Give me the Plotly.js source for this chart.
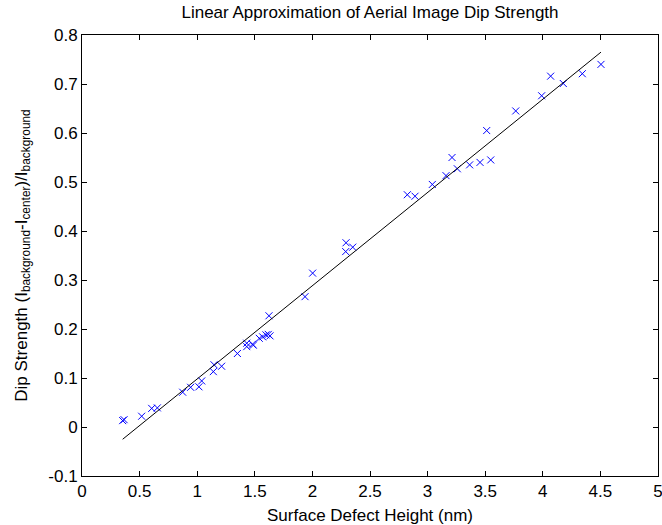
<!DOCTYPE html>
<html>
<head>
<meta charset="utf-8">
<script src="https://cdn.plot.ly/plotly-3.0.1.min.js"></script>
<style>html,body{margin:0;padding:0;background:#fff;}#chart{width:662px;height:525px;}</style>
</head>
<body>
<div id="chart"></div>
<script>
// Measured points: surface defect height (nm) vs dip strength
const heightNm = [0.353, 0.365, 0.518, 0.605, 0.654, 0.874, 0.943, 1.015, 1.039,
  1.140, 1.146, 1.212, 1.349, 1.430, 1.430, 1.480, 1.487, 1.539, 1.568, 1.597, 1.617, 1.632, 1.623,
  1.936, 2.002, 2.289, 2.292, 2.350, 2.824, 2.891, 3.041, 3.160, 3.212, 3.258, 3.365, 3.455, 3.548,
  3.513, 3.765, 3.990, 4.068, 4.178, 4.343, 4.505];
const dipStrength = [0.013, 0.015, 0.022, 0.038, 0.039, 0.071, 0.081, 0.082, 0.094,
  0.113, 0.127, 0.124, 0.150, 0.171, 0.164, 0.169, 0.167, 0.181, 0.184, 0.188, 0.189, 0.186, 0.227,
  0.266, 0.314, 0.358, 0.376, 0.367, 0.474, 0.471, 0.495, 0.513, 0.550, 0.527, 0.535, 0.540, 0.545,
  0.605, 0.645, 0.676, 0.716, 0.701, 0.721, 0.740];
// Linear approximation endpoints
const fitX = [0.353, 4.505];
const fitY = [-0.025, 0.765];
// Tick labels
const xTickVals = [0, 0.5, 1, 1.5, 2, 2.5, 3, 3.5, 4, 4.5, 5];
const xTickText = ['0', '0.5', '1', '1.5', '2', '2.5', '3', '3.5', '4', '4.5', '5'];
const yTickVals = [-0.1, 0, 0.1, 0.2, 0.3, 0.4, 0.5, 0.6, 0.7, 0.8];
const yTickText = ['-0.1', '0', '0.1', '0.2', '0.3', '0.4', '0.5', '0.6', '0.7', '0.8'];

const font = {family: 'Liberation Sans, Arial, sans-serif', size: 17, color: '#000'};

const traces = [
  {x: heightNm, y: dipStrength, type: 'scatter', mode: 'markers',
   marker: {symbol: 'x-thin-open', size: 7, color: '#0000ff', line: {color: '#0000ff', width: 1}},
   hoverinfo: 'x+y', showlegend: false},
  {x: fitX, y: fitY, type: 'scatter', mode: 'lines',
   line: {color: '#000', width: 1}, showlegend: false}
];

const axisCommon = {
  showgrid: false, zeroline: false, showline: true, linecolor: '#000', linewidth: 1,
  mirror: 'ticks', ticks: 'inside', ticklen: 5, tickcolor: '#000', tickwidth: 1,
  tickfont: font, tickmode: 'array', ticklabeloverflow: 'allow'
};

const layout = {
  width: 662, height: 525,
  margin: {l: 82, r: 4, t: 35, b: 49},
  paper_bgcolor: '#fff', plot_bgcolor: '#fff',
  font: font,
  title: {text: 'Linear Approximation of Aerial Image Dip Strength', font: font,
          x: 0.5, xanchor: 'center', xref: 'paper', y: 1, yref: 'paper', yanchor: 'bottom', pad: {b: 17}},
  xaxis: Object.assign({}, axisCommon, {
    range: [0, 5], tickvals: xTickVals, ticktext: xTickText,
    title: {text: 'Surface Defect Height (nm)', font: font, standoff: 8}
  }),
  yaxis: Object.assign({}, axisCommon, {
    range: [-0.1, 0.8], tickvals: yTickVals, ticktext: yTickText,
    title: {text: 'Dip Strength (I<sub>background</sub>-I<sub>center</sub>)/I<sub>background</sub>', font: font, standoff: 16}
  })
};

Plotly.newPlot('chart', traces, layout, {staticPlot: true, displayModeBar: false});
</script>
</body>
</html>
